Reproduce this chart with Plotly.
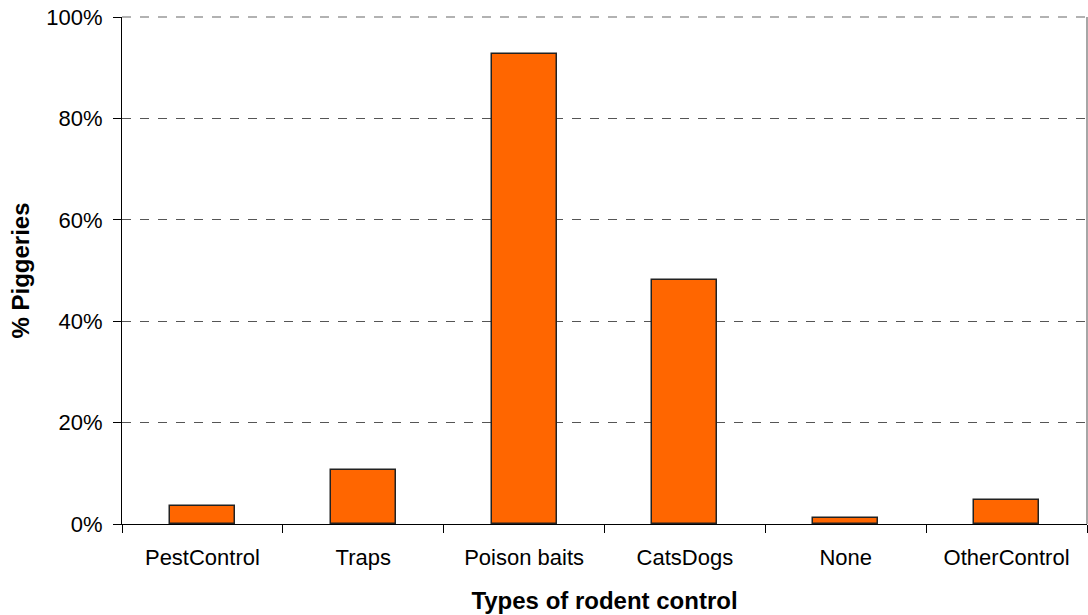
import plotly.graph_objects as go

categories = ["PestControl", "Traps", "Poison baits", "CatsDogs", "None", "OtherControl"]
pct_piggeries = [3.6, 10.7, 92.8, 48.2, 1.1, 4.7]
y_ticks = [0, 20, 40, 60, 80, 100]
y_tick_text = ["0%", "20%", "40%", "60%", "80%", "100%"]

bar_color = "#FF6600"
font_family = "Liberation Sans, Arial, sans-serif"

fig = go.Figure()
fig.add_trace(go.Bar(
    x=categories, y=pct_piggeries,
    width=0.405,
    marker=dict(color=bar_color, line=dict(color="#222222", width=1.5)),
))

fig.update_layout(
    width=1088, height=615,
    margin=dict(l=122, r=1, t=17, b=91),
    plot_bgcolor="white", paper_bgcolor="white",
    showlegend=False,
    font=dict(family=font_family, size=22, color="black"),
    bargap=0,
)

fig.update_xaxes(
    tickson="boundaries", ticks="outside", ticklen=8, tickcolor="black",
    showline=True, linecolor="black", linewidth=1,
    showgrid=False,
    tickfont=dict(size=22),
    ticklabelstandoff=14,
    automargin=False,
    title=dict(text="<b>Types of rodent control</b>", font=dict(size=24), standoff=22),
)

fig.update_yaxes(
    range=[0, 100], tickvals=y_ticks, ticktext=y_tick_text,
    ticks="outside", ticklen=8, tickcolor="black",
    showline=True, linecolor="black", linewidth=1,
    showgrid=True, gridcolor="#555555", griddash="dash", gridwidth=1,
    tickfont=dict(size=22),
    ticklabelstandoff=6,
    ticklabeloverflow="allow",
    automargin=False,
    zeroline=False,
)

# y title as an annotation so it can sit exactly where the reference has it
fig.add_annotation(text="<b>% Piggeries</b>", textangle=-90,
                   xref="paper", yref="paper", x=0, y=0.5,
                   xanchor="center", yanchor="middle", xshift=-102,
                   showarrow=False, font=dict(size=24))

# top dashed grid at 100% and right border of the plot area
fig.add_shape(type="line", xref="paper", yref="paper", x0=0, x1=1, y0=1, y1=1,
              line=dict(color="#999999", width=1.5, dash="dash"))
fig.add_shape(type="line", xref="paper", yref="paper", x0=1, x1=1, y0=0, y1=1,
              line=dict(color="#888888", width=1.5))

# drop the default body margin so the figure fills the window
fig.write_html("out.html", config={"displayModeBar": False},
               post_script="document.body.style.margin='0';document.body.style.overflow='hidden';")
